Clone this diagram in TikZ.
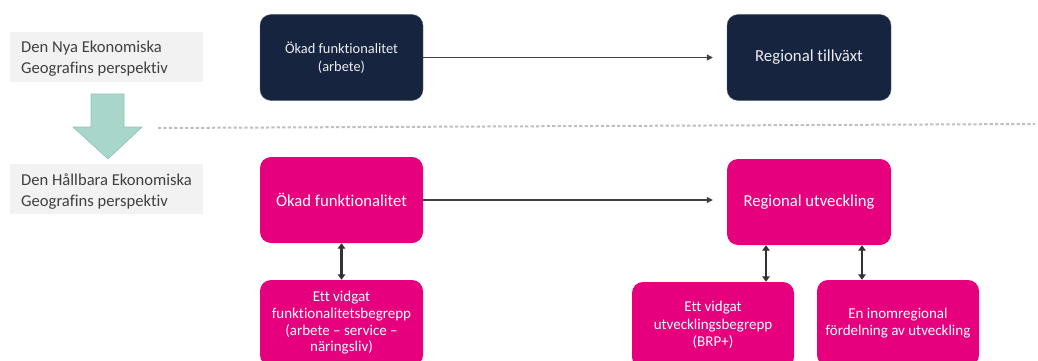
\documentclass[tikz,border=0pt]{standalone}
\usepackage{fontspec}
\setmainfont{Carlito}[Ligatures={NoCommon}]
\usetikzlibrary{arrows.meta,calc}
\definecolor{navy}{HTML}{172440}
\definecolor{magenta}{HTML}{E6007E}
\definecolor{labelbg}{HTML}{F2F2F2}
\definecolor{labeltxt}{HTML}{404040}
\definecolor{teal}{HTML}{A9D6CB}
\definecolor{tealedge}{HTML}{8FC2B5}
\definecolor{linegray}{HTML}{404040}
\definecolor{dashgray}{HTML}{BFBFBF}
\tikzset{
  box/.style={rectangle, rounded corners=11pt, minimum width=163pt, minimum height=86pt,
    inner sep=2pt, align=center, text=white},
  darkbox/.style={box, fill=navy, draw=navy!70!white, line width=0.4pt, text=white!92!navy},
  pinkbox/.style={box, fill=magenta},
  labelbox/.style={rectangle, fill=labelbg, minimum width=193pt, minimum height=50pt,
    inner sep=0pt, anchor=west},
  labeltext/.style={anchor=west, inner sep=0pt, align=left, text=labeltxt,
    font=\fontsize{16.6}{21}\selectfont},
  flow/.style={draw=linegray, line width=1.2pt, -{Triangle[length=6pt,width=6pt]}, shorten >=14pt},
  dbl/.style={draw=linegray!80!black, line width=2.5pt, {Triangle[length=5.5pt,width=7.5pt]}-{Triangle[length=5.5pt,width=7.5pt]}},
}
\begin{document}
\begin{tikzpicture}[x=1pt,y=-1pt]
\useasboundingbox (0,0) rectangle (1038,361);
\clip (0,0) rectangle (1038,361);
% labels
\node[labelbox] (lab1) at (10,57) {};
\node[labeltext] (lab1t) at ([xshift=11pt,yshift=-2pt]lab1.west) {Den Nya Ekonomiska\\Geografins perspektiv};
\node[labelbox] (lab2) at (10,189) {};
\node[labeltext] (lab2t) at ([xshift=11pt,yshift=-3pt]lab2.west) {Den Hållbara Ekonomiska\\Geografins perspektiv};
% big arrow
\draw[fill=teal, draw=tealedge, line width=0.6pt]
  (91,94) -- (124,94) -- (124,127) -- (142,127) -- (108,159) -- (73,127) -- (91,127) -- cycle;
% dashed separator
\coordinate (d1) at (158,128);
\coordinate (d2) at (1035,124);
\draw[dashgray, line width=2pt, dash pattern=on 3.2pt off 2.2pt] (d1) -- (d2);
% top row
\node[darkbox, font=\fontsize{14.4}{18.5}\selectfont] (b1) at (341.5,57.5) {Ökad funktionalitet\\(arbete)};
\node[darkbox, minimum width=164pt, font=\fontsize{16.8}{20}\selectfont] (b2) at (809,57.5) {Regional tillväxt};
\draw[flow] (b1.east) -- (b1.east -| b2.west);
% bottom section
\node[pinkbox, font=\fontsize{16.7}{20}\selectfont] (b3) at (341.5,200) {Ökad funktionalitet};
\node[pinkbox, minimum width=164pt, font=\fontsize{16.7}{20}\selectfont] (b5) at (809,202) {Regional utveckling};
\draw[flow] (b3.east) -- (b3.east -| b5.west);
\node[pinkbox, font=\fontsize{15}{16.7}\selectfont] (b4) at (341.5,323) {Ett vidgat\\funktionalitetsbegrepp\\(arbete – service –\\näringsliv)};
\node[pinkbox, minimum width=162pt, font=\fontsize{15}{17.5}\selectfont] (b6) at (713,325) {Ett vidgat\\utvecklingsbegrepp\\(BRP+)};
\node[pinkbox, minimum width=162pt, font=\fontsize{15}{17.5}\selectfont] (b7) at (898,323) {En inomregional\\fördelning av utveckling};
\draw[dbl] (b3.south) -- (b4.north);
\draw[dbl] ([xshift=-43pt]b5.south) -- ([xshift=-43pt]b5.south |- b6.north);
\draw[dbl] ([xshift=53pt]b5.south) -- ([xshift=53pt]b5.south |- b7.north);
\end{tikzpicture}
\end{document}
